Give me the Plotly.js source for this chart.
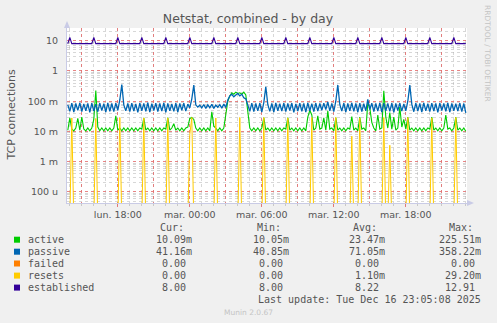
<!DOCTYPE html>
<html>
<head>
<meta charset="utf-8">
<script src="https://cdn.plot.ly/plotly-3.0.1.min.js"></script>
<style>
html,body{margin:0;padding:0;background:#F0F0F0;}
#chart{width:497px;height:323px;}
</style>
</head>
<body>
<div id="chart"></div>
<script>
// ---- DATA (10-minute samples from Mon 15 Dec 2025 13:50) ----
const seriesStart = [2025, 11, 15, 13, 50]; // Y, M(0-based), D, h, m
const stepMinutes = 10;

// values in milli-connections
const activeMilli = [
  11,28,12,10.5,13,27,11,30,12,10.5,
  13,10.5,13,25,225,14,10.5,13,10.5,13,
  10.5,13,10.5,13,33,11,13,10.5,13,10.5,
  13,10.5,13,10.5,13,10.5,13,12,28,11,
  13,10.5,13,10.5,13,10.5,13,10.5,13,12,
  29,11,13,18,11,13,10.5,13,10.5,13,
  14,27,29,25,13,10.5,13,10.5,13,10.5,
  13,10.5,45,15,13,10.5,13,10.5,13,40,
  100,150,190,170,200,180,190,170,200,160,
  40,13,10.5,13,10.5,13,10.5,13,29,11,
  13,10.5,13,10.5,13,10.5,13,10.5,13,12,
  29,11,13,10.5,13,10.5,13,10.5,13,10.5,
  30,50,35,11,13,33,12,13,28,11,
  48,12,13,10.5,29,11,13,10.5,13,10.5,
  13,12,31,11,13,10.5,30,12,13,10.5,
  90,60,20,13,10.5,35,12,13,220,30,
  13,42,12,30,11,13,65,14,25,12,
  30,11,13,10.5,13,10.5,13,10.5,13,10.5,
  13,12,30,11,13,10.5,13,10.5,13,35,
  12,13,10.5,13,30,11,13,10.5,13,10.1
];

const passiveMilli = [
  76,46,86,44,84,50,88,45,82,48,
  85,43,87,47,80,45,86,49,83,44,
  88,46,84,45,86,50,110,358,76,48,
  84,45,87,47,82,43,86,48,85,46,
  89,44,83,49,86,45,84,47,88,43,
  85,48,82,46,87,44,84,50,86,47,
  80,60,120,340,76,64,74,60,78,58,
  76,61,79,58,74,63,77,59,80,62,
  110,150,170,140,160,180,150,170,130,120,
  74,46,86,45,84,48,87,44,90,300,
  78,46,85,44,88,48,83,47,86,45,
  84,49,87,43,82,47,86,46,85,44,
  88,48,83,45,86,47,84,50,86,53,
  95,48,85,45,100,345,78,47,86,44,
  84,48,88,46,85,44,87,45,83,48,
  115,53,86,45,84,47,88,44,86,48,
  85,46,87,43,84,49,86,47,82,48,
  100,340,80,45,86,47,84,44,88,48,
  83,45,87,47,85,43,86,49,84,46,
  88,44,85,48,83,47,86,45,84,41
];

const failedMilli = [
  0,0,0,0,0,0,0,0,0,0, 0,0,0,0,0,0,0,0,0,0,
  0,0,0,0,0,0,0,0,0,0, 0,0,0,0,0,0,0,0,0,0,
  0,0,0,0,0,0,0,0,0,0, 0,0,0,0,0,0,0,0,0,0,
  0,0,0,0,0,0,0,0,0,0, 0,0,0,0,0,0,0,0,0,0,
  0,0,0,0,0,0,0,0,0,0, 0,0,0,0,0,0,0,0,0,0,
  0,0,0,0,0,0,0,0,0,0, 0,0,0,0,0,0,0,0,0,0,
  0,0,0,0,0,0,0,0,0,0, 0,0,0,0,0,0,0,0,0,0,
  0,0,0,0,0,0,0,0,0,0, 0,0,0,0,0,0,0,0,0,0,
  0,0,0,0,0,0,0,0,0,0, 0,0,0,0,0,0,0,0,0,0,
  0,0,0,0,0,0,0,0,0,0, 0,0,0,0,0,0,0,0,0,0
];

const resetsMilli = [
  0,0,28,0,0,0,0,0,0,0,
  0,0,0,0,27,0,0,0,0,0,
  0,0,0,0,0,0,29,0,0,0,
  0,0,0,0,0,0,0,0,28,0,
  0,0,0,0,0,0,0,0,0,0,
  28,0,0,0,0,0,0,0,0,0,
  0,8,29,0,0,0,0,0,0,0,
  0,0,0,0,28,0,0,0,0,0,
  0,0,0,0,0,0,29,0,0,0,
  0,0,0,0,0,0,0,0,29,0,
  0,0,0,0,0,0,0,0,0,0,
  28,0,0,0,0,0,0,0,0,0,
  0,0,29,0,0,0,0,0,0,0,
  0,0,0,0,29,0,0,0,0,0,
  0,0,7,0,0,0,28,0,0,0,
  0,0,0,0,0,0,0,0,29,0,
  0,3.5,0,0,0,0,0,0,0,0,
  29,0,0,0,0,0,0,0,0,0,
  0,0,28,0,0,0,0,0,0,0,
  0,0,0,0,29,0,0,0,0,0
];

// values in connections
const established = [
  8,12.9,8,8,8,8,8,8,8.3,8,
  8,8,8,12.9,8,8,8,8,8,8,
  8,8,8,8,8,12.9,8,8,8,8,
  8,8,8,8,8,8,8,12.9,8,8,
  8,8,8,8,8,8,8,8,8,12.9,
  8,8,8,8,8,8,8,8.3,8,8,
  8,12.9,8,8,8,8,8,8,8,8,
  8,8,8,12.9,8,8,8,8,8,8,
  8,8,8,8,8,12.9,8,8,8,8,
  8,8,8,8,8,8,8,12.9,8,8,
  8,8,8,8,8,8,8,8,8,12.9,
  8,8,8,8,8,8,8,8,8,8,
  8,12.9,8,8,8,8,8,8,8,8,
  8,8,8,12.9,8,8,8,8,8,8,
  8,8,8,8,8,12.9,8,8,8,8,
  8,8,8,8,8,8,8,12.9,8,8,
  8,8,8,8,8,8,8,8,8,12.9,
  8,8,8,8,8,8,8,8,8,8,
  8,12.9,8,8,8,8,8,8,8,8,
  8,8,8,12.9,8,8,8,8,8,8
];

const seriesNames  = ['active', 'passive', 'failed', 'resets', 'established'];
const seriesColors = ['#00CC00', '#0066B3', '#FF8000', '#FFCC00', '#330099'];
const seriesWidths = [1.1, 1.3, 1, 1, 1.1];

const yTickVals = [1e-4, 1e-3, 1e-2, 1e-1, 1, 10];
const yTickText = ['100 u', '1 m', '10 m', '100 m', '1', '10'];

const xTickVals = ['2025-12-15 15:00','2025-12-15 18:00','2025-12-15 21:00','2025-12-16 00:00',
                   '2025-12-16 03:00','2025-12-16 06:00','2025-12-16 09:00','2025-12-16 12:00',
                   '2025-12-16 15:00','2025-12-16 18:00','2025-12-16 21:00'];
const xTickText = ['', 'lun. 18:00', '', 'mar. 00:00', '', 'mar. 06:00', '', 'mar. 12:00', '', 'mar. 18:00', ''];

const legendCur = ['10.09m', '41.16m', '0.00 ', '0.00 ', '8.00 '];
const legendMin = ['10.05m', '40.85m', '0.00 ', '0.00 ', '8.00 '];
const legendAvg = ['23.47m', '71.05m', '0.00 ', '1.10m', '8.22 '];
const legendMax = ['225.51m', '358.22m', '0.00 ', '29.20m', '12.91 '];
const legendHeaders = ['Cur:', 'Min:', 'Avg:', 'Max:'];
const lastUpdate = 'Last update: Tue Dec 16 23:05:08 2025';

// ---- BUILD ----
const n = established.length;
const t0 = Date.UTC(seriesStart[0], seriesStart[1], seriesStart[2], seriesStart[3], seriesStart[4]);
const times = [];
for (let i = 0; i < n; i++) {
  times.push(new Date(t0 + i * stepMinutes * 60000).toISOString().slice(0, 19).replace('T', ' '));
}
// zero cannot sit on a log axis: draw it far below the visible range (like rrdtool)
const LOG_FLOOR = 1e-5;
const milli = a => a.map(v => v > 0 ? v / 1000 : LOG_FLOOR);
const plain = a => a.map(v => v > 0 ? v : LOG_FLOOR);

const seriesValues = [milli(activeMilli), milli(passiveMilli), milli(failedMilli), milli(resetsMilli), plain(established)];

const traces = seriesNames.map((name, k) => ({
  type: 'scatter', mode: 'lines', name: name,
  x: times, y: seriesValues[k],
  line: {color: seriesColors[k], width: seriesWidths[k]},
  hoverinfo: 'skip'
}));

// minor grid positions
const yMinor = [];
for (let d = -5; d <= 1; d++) for (let m = 2; m <= 9; m++) yMinor.push(m * Math.pow(10, d));
const xMinor = [];
const h0 = Date.UTC(2025, 11, 15, 13, 0);
for (let h = 0; h <= 35; h++) xMinor.push(new Date(h0 + h * 3600000).toISOString().slice(0, 19).replace('T', ' '));

// pixel helpers (plot area: x 67..467, y 28..203)
const PL = 67, PW = 400, PB = 203, PH = 175;
const px = x => (x - PL) / PW;
const py = y => (PB - y) / PH;

const mono = {family: 'DejaVu Sans Mono, monospace', size: 10, color: '#555555'};
const annotations = [];
function addText(text, x, y, anchor, font, extra) {
  annotations.push(Object.assign({
    text: text.replace(/ /g, '\u00a0'), x: px(x), y: py(y), xref: 'paper', yref: 'paper',
    xanchor: anchor, yanchor: 'middle', showarrow: false, font: font
  }, extra || {}));
}
// y-axis title
addText('TCP connections', 11, 114.5, 'center', {family: 'DejaVu Sans', size: 11, color: '#555555'}, {textangle: -90});
// right-side credit
addText('RRDTOOL / TOBI OETIKER', 488, 53, 'center', {family: 'DejaVu Sans', size: 7.5, color: '#c4c4c4'}, {textangle: 90});
// legend table
const headerX = [158, 255, 351, 447];
legendHeaders.forEach((h, j) => addText(h, headerX[j], 227.5, 'left', mono));
const rowY = [239.7, 251.7, 263.5, 275.6, 287.6];
const shapes = [];
seriesNames.forEach((name, k) => {
  const y = rowY[k];
  addText(name, 26, y, 'left', mono);
  addText(legendCur[k], 194, y, 'right', mono);
  addText(legendMin[k], 291, y, 'right', mono);
  addText(legendAvg[k], 387, y, 'right', mono);
  addText(legendMax[k], 483, y, 'right', mono);
  shapes.push({type: 'rect', xref: 'paper', yref: 'paper',
    x0: px(14), x1: px(20), y0: py(y + 3), y1: py(y - 3),
    fillcolor: seriesColors[k], line: {width: 0}});
});
addText(lastUpdate, 483, 299.5, 'right', mono);
addText('Munin 2.0.67', 248, 312, 'center', {family: 'DejaVu Sans', size: 7.5, color: '#c4c4c4'});

// axis arrows
const axisCol = '#c9cbe6';
shapes.push({type: 'path', xref: 'paper', yref: 'paper', layer: 'above',
  path: `M ${px(64)} ${py(28)} L ${px(67)} ${py(21)} L ${px(70)} ${py(28)} Z`,
  fillcolor: axisCol, line: {width: 0}});
shapes.push({type: 'path', xref: 'paper', yref: 'paper', layer: 'above',
  path: `M ${px(467)} ${py(200)} L ${px(474)} ${py(203)} L ${px(467)} ${py(206)} Z`,
  fillcolor: axisCol, line: {width: 0}});

const majorGrid = 'rgba(228,110,110,0.85)';
const minorGrid = 'rgba(175,175,175,0.5)';
const tickFont = {family: 'DejaVu Sans', size: 9.5, color: '#555555'};

const layout = {
  width: 497, height: 323,
  paper_bgcolor: '#F0F0F0', plot_bgcolor: '#FFFFFF',
  margin: {l: 67, r: 30, t: 28, b: 120},
  showlegend: false, hovermode: false,
  title: {text: 'Netstat, combined - by day', x: 0.499, xref: 'container', xanchor: 'center',
          y: 1 - 19 / 323, yref: 'container', yanchor: 'middle',
          font: {family: 'DejaVu Sans', size: 12.5, color: '#555555'}},
  xaxis: {
    type: 'date', range: ['2025-12-15 13:46', '2025-12-16 23:06'],
    tickmode: 'array', tickvals: xTickVals, ticktext: xTickText,
    showgrid: true, gridcolor: majorGrid, griddash: 'dot', gridwidth: 1,
    ticks: 'outside', ticklen: 3, tickcolor: 'rgba(225,110,110,0.9)',
    minor: {tickmode: 'array', tickvals: xMinor, showgrid: true, gridcolor: minorGrid, griddash: 'dot',
            ticks: 'outside', ticklen: 2, tickcolor: '#c8c8c8'},
    showline: true, linecolor: axisCol, linewidth: 1, zeroline: false,
    tickfont: tickFont, fixedrange: true
  },
  yaxis: {
    type: 'log', range: [-4.364, 1.42],
    tickmode: 'array', tickvals: yTickVals, ticktext: yTickText,
    showgrid: true, gridcolor: majorGrid, griddash: 'dot', gridwidth: 1,
    minor: {tickmode: 'array', tickvals: yMinor, showgrid: true, gridcolor: minorGrid, griddash: 'dot', ticks: ''},
    ticks: '', ticklabelstandoff: 6,
    showline: true, linecolor: axisCol, linewidth: 1, zeroline: false,
    tickfont: tickFont, fixedrange: true
  },
  annotations: annotations,
  shapes: shapes
};

Plotly.newPlot('chart', traces, layout, {displayModeBar: false, staticPlot: true});
</script>
</body>
</html>
